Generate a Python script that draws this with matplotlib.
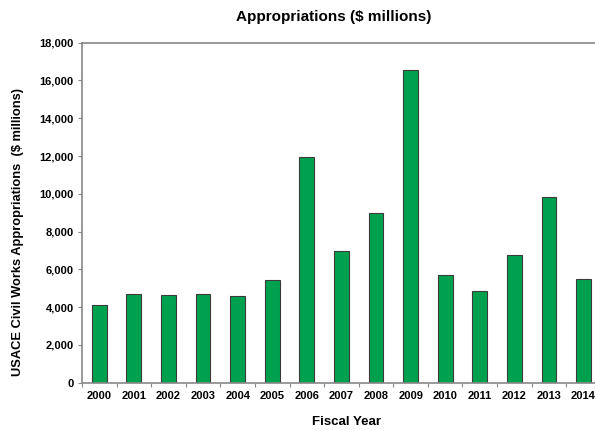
import matplotlib
matplotlib.use("Agg")
import matplotlib.pyplot as plt
import numpy as np
from matplotlib.ticker import FuncFormatter

# --- data ---
years = ["2000", "2001", "2002", "2003", "2004", "2005", "2006", "2007",
         "2008", "2009", "2010", "2011", "2012", "2013", "2014"]
approp = [4120, 4690, 4650, 4700, 4600, 5450, 11930, 6950,
          8990, 16570, 5680, 4880, 6770, 9830, 5480]

plt.rcParams["font.family"] = ["Liberation Sans", "DejaVu Sans"]
plt.rcParams["font.weight"] = "bold"

fig = plt.figure(figsize=(5.95, 4.3), dpi=100)
ax = fig.add_axes([0.1378, 0.11, 0.872, 0.7907])

x = np.arange(len(years))
ax.bar(x, approp, width=0.43, color="#00A14E", edgecolor="#3a3a3a", linewidth=0.8)

ax.set_xlim(-0.5, len(years) - 0.5)
ax.set_ylim(0, 18000)
ax.set_yticks(np.arange(0, 18001, 2000))
ax.yaxis.set_major_formatter(FuncFormatter(lambda v, p: f"{int(v):,}"))

# category labels centred, tick marks between categories
ax.set_xticks(x)
ax.set_xticklabels(years)
ax.tick_params(axis="x", which="major", length=0, pad=6, labelsize=8)
ax.set_xticks(np.arange(-0.5, len(years), 1), minor=True)
ax.tick_params(axis="x", which="minor", length=3, color="#888888", width=0.8)
ax.tick_params(axis="y", length=3, color="#888888", width=0.8, labelsize=8, pad=3)

for s in ["left", "top", "bottom"]:
    ax.spines[s].set_color("#888888")
    ax.spines[s].set_linewidth(1.2)
ax.spines["right"].set_visible(False)

ax.set_ylabel("USACE Civil Works Appropriations  ($ millions)", fontsize=9.3,
              fontweight="bold")
ax.yaxis.set_label_coords(-0.112, 0.443)
fig.text(0.582, 0.018, "Fiscal Year", ha="center", va="center",
         fontsize=9.5, fontweight="bold")
fig.text(0.56, 0.961, "Appropriations ($ millions)", ha="center", va="center",
         fontsize=11, fontweight="bold")

fig.savefig("out.png", dpi=100)
